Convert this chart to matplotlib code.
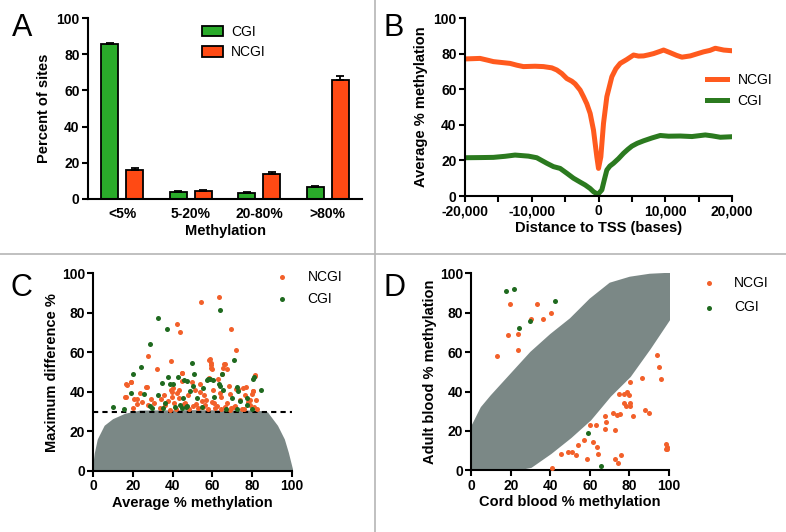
import numpy as np
import matplotlib
matplotlib.use('Agg')
import matplotlib.pyplot as plt
from matplotlib.lines import Line2D
from matplotlib.patches import Patch

plt.rcParams['font.family'] = ['Liberation Sans', 'DejaVu Sans']
plt.rcParams['font.weight'] = 'bold'

# ---- panel A: distribution of methylation levels
categories = ['<5%', '5-20%', '20-80%', '>80%']
cgi_pct = [85.8, 4.0, 3.3, 6.8]
cgi_err = [0.5, 0.3, 0.3, 0.5]
ncgi_pct = [16.0, 4.4, 14.0, 65.7]
ncgi_err = [1.3, 0.4, 0.9, 2.3]

# ---- panel B: average methylation around the TSS
ncgi_tss_x = [-20000, -18500, -17750, -16500, -15750, -14500, -13250, -12250, -11250, -9500,
              -8250, -7000, -6250, -5500, -4750, -4000, -3500, -2750, -2250, -1750,
              -1250, -750, -250, 0, 350, 750, 1250, 2000, 2600, 3250, 4200, 5250, 6000,
              6750, 7500, 8250, 9250, 9750, 10750, 11700, 12500, 13750, 14700, 15750,
              16700, 17500, 18750, 20000]
ncgi_tss_y = [77.0, 77.2, 77.3, 76.2, 75.5, 75.0, 74.5, 73.5, 72.7, 72.9,
              72.7, 72.0, 70.8, 68.8, 66.0, 64.5, 63.0, 59.5, 55.8, 51.8,
              46.4, 37.0, 22.0, 15.5, 22.0, 40.8, 55.8, 67.0, 71.5, 74.5, 76.6, 79.2, 78.6,
              78.7, 79.3, 80.0, 81.3, 82.0, 80.5, 79.0, 78.0, 78.7, 79.8, 81.0,
              81.8, 83.0, 82.0, 81.6]
cgi_tss_x = [-20000, -17500, -15750, -14000, -12500, -10500, -9250, -7750, -6750, -5750,
             -4750, -3750, -2750, -2000, -1250, -750, -100, 500, 900, 1250, 1700, 2250,
             3000, 3750, 4400, 5000, 5800, 6750, 8000, 9250, 10500, 12250, 14000, 16000,
             17000, 18250, 20000]
cgi_tss_y = [21.5, 21.6, 21.7, 22.3, 23.0, 22.4, 21.5, 18.4, 16.5, 15.5,
             12.8, 10.0, 7.8, 6.2, 4.2, 2.4, 0.9, 3.4, 9.5, 14.6, 16.8, 18.4,
             21.0, 24.0, 26.2, 28.0, 29.6, 31.0, 32.6, 34.0, 33.6, 33.7, 33.4, 34.3,
             33.8, 33.0, 33.3]

# ---- panel C: max difference vs average methylation
c_cloud_x = [0, 1, 2.5, 5.9, 10, 16, 23.5, 50, 82, 87.4, 90, 92.4, 95.8, 97.8, 100]
c_cloud_top = [1, 9, 16, 22.8, 26, 28.7, 30.3, 30.5, 30.3, 29.5, 26, 22.8, 16, 9.3, 0.5]

c_ncgi_x = [54.3, 63.5, 42.2, 43.7, 69.4, 72.1, 27.4, 39.2, 32.1, 81.7, 58.8, 59.2, 59.3,
            66.0, 67.2, 58.3, 64.7, 44.7, 16.5, 19.0, 16.1, 20.7, 21.8, 26.9, 39.5, 40.3,
            44.5, 53.8, 63.9, 68.9, 73.1, 77.0, 80.7, 79.9,
            16.3, 16.8, 18.8, 20.2, 21.9, 23.5, 24.7, 26.4, 27.7, 29.3, 30.8, 33.6, 35.6,
            37.7, 39.0, 39.5, 40.7, 42.0, 43.4, 44.5, 46.2, 47.9, 49.6, 51.3, 51.8, 53.8,
            55.1, 55.8, 58.5, 59.1, 59.6, 60.2, 61.3, 63.0, 64.6, 65.5, 66.3, 67.2, 68.6,
            70.9, 71.9, 73.9, 75.3, 76.4, 78.9, 80.3, 81.5, 81.8, 81.0,
            38.6, 54.6, 56.3, 58.0, 62.2, 68.9, 74.8, 41.5, 48.0, 53.0, 64.5, 69.5, 76.0,
            82.5, 36.0, 45.5, 50.5, 57.0, 61.0, 66.5, 71.5, 78.0, 34.0, 43.0, 60.0, 79.0]
c_ncgi_y = [85.5, 88.2, 74.2, 70.3, 72.0, 61.0, 58.2, 55.6, 51.4, 48.6, 56.5, 54.8, 52.3,
            54.0, 51.4, 47.2, 48.9, 49.7, 43.8, 45.0, 37.4, 36.2, 33.7, 42.5, 40.0, 41.8,
            45.5, 40.0, 39.6, 38.8, 41.7, 42.7, 40.5, 38.8,
            37.3, 43.4, 45.1, 32.0, 36.4, 39.3, 35.0, 42.3, 33.4, 36.4, 34.2, 31.7, 38.2,
            35.6, 40.9, 37.5, 34.2, 39.3, 40.9, 49.6, 34.5, 38.2, 45.1, 40.9, 33.9, 44.2,
            32.2, 38.2, 56.1, 53.7, 51.4, 40.9, 31.7, 46.7, 37.5, 52.0, 53.9, 34.2, 43.2,
            32.4, 41.6, 36.1, 42.1, 38.2, 36.1, 40.3, 47.8, 35.7, 32.4,
            31.1, 35.3, 33.2, 31.5, 32.7, 31.1, 31.6, 31.5, 31.2, 31.8, 31.4, 32.0, 31.3,
            31.6, 33.5, 34.0, 33.0, 36.0, 34.5, 32.5, 33.0, 34.8, 36.5, 37.0, 35.0, 33.5]
c_cgi_x = [63.9, 32.6, 37.0, 28.7, 71.1, 49.7, 23.9, 20.2, 81.0, 19.0, 9.7, 15.5, 25.4,
           34.5, 37.8, 38.7, 47.0, 48.7, 50.0, 55.5, 58.0, 60.5, 63.5, 65.0, 72.6, 77.6,
           73.9, 84.5, 28.6, 29.6, 32.8, 36.1, 40.3, 41.2, 42.9, 43.7, 45.0, 45.7, 46.7,
           50.8, 52.1, 57.1, 58.8, 60.8, 63.8, 65.5, 69.7, 73.1, 77.3, 80.6, 44.5, 47.0,
           72.3, 80.0, 35.0, 55.0, 67.0]
c_cgi_y = [81.3, 77.2, 72.0, 64.2, 56.3, 54.8, 52.6, 48.9, 47.4, 39.6, 32.4, 31.5, 38.8,
           44.7, 47.6, 43.8, 45.5, 40.5, 43.0, 41.8, 46.4, 45.9, 43.8, 49.2, 42.7, 37.1,
           35.4, 41.0, 32.9, 31.7, 38.2, 34.2, 44.0, 32.6, 47.6, 33.4, 36.7, 46.0, 32.6,
           49.2, 36.7, 46.0, 46.4, 37.5, 42.8, 40.9, 37.1, 40.3, 33.6, 46.6, 31.7, 32.9,
           31.6, 31.5, 31.8, 32.3, 31.4]

# ---- panel D: cord blood vs adult blood
d_cloud_x = [0, 5, 10, 20, 30, 40, 50, 60, 70, 80, 90, 100]
d_cloud_upper = [22, 32, 38, 49, 60, 69, 77, 87, 95, 98, 99.5, 100]
d_cloud_lower = [0, 0, 0, 0, 2, 9, 17, 26, 38, 48, 62, 77]

d_ncgi_x = [19.4, 33.2, 30.4, 36.3, 40.3, 18.5, 23.6, 23.8, 13.0, 94.1, 94.8, 96.1, 86.5,
            80.3, 74.5, 77.1, 78.9, 79.8, 77.4, 78.4, 80.1, 80.1, 71.7, 73.7, 75.4, 81.8,
            87.7, 89.9, 67.8, 68.3, 60.0, 63.2, 67.7, 72.7, 57.2, 61.5, 54.0, 63.7, 45.4,
            49.1, 50.7, 52.8, 64.1, 58.7, 72.5, 74.2, 75.9, 41.0, 98.7, 99.0, 99.2, 98.3]
d_ncgi_y = [84.6, 84.6, 76.6, 77.0, 79.9, 68.5, 69.2, 61.1, 58.0, 58.4, 52.5, 46.2, 46.7,
            44.8, 38.9, 38.6, 39.8, 38.1, 34.0, 32.7, 34.0, 32.7, 29.3, 28.1, 28.8, 27.4,
            30.6, 29.3, 27.6, 24.5, 23.2, 23.0, 21.2, 20.6, 15.2, 14.6, 12.7, 11.8, 8.1,
            9.3, 9.3, 7.6, 8.5, 5.6, 5.6, 3.9, 7.8, 1.4, 13.2, 11.8, 10.7, 11.0]
d_cgi_x = [17.7, 21.6, 42.2, 29.5, 24.1, 59.0, 65.8]
d_cgi_y = [91.0, 92.2, 85.8, 75.6, 72.4, 19.1, 2.2]

# colours
BAR_GREEN = '#2aab2a'
BAR_RED = '#ff4a14'
LINE_ORANGE = '#ff5a1e'
LINE_GREEN = '#2b7a1f'
DOT_ORANGE = '#f2602a'
DOT_GREEN = '#1f6a1f'
CLOUD = '#7b8886'

TICK_FS = 10
LABEL_FS = 10.5
LEG_FONT = {'size': 10, 'weight': 'normal'}


def style_axes(ax):
    for s in ['top', 'right']:
        ax.spines[s].set_visible(False)
    for s in ['left', 'bottom']:
        ax.spines[s].set_linewidth(1.5)
    ax.tick_params(direction='out', width=1.5, length=4, labelsize=TICK_FS, pad=2)


fig = plt.figure(figsize=(7.86, 5.32), dpi=100)
W, H = 786.0, 532.0


def add_axes_px(x0, y0, x1, y1):
    return fig.add_axes([x0 / W, 1 - y1 / H, (x1 - x0) / W, (y1 - y0) / H])


# ---------------- A
axA = add_axes_px(88, 18, 362, 199)
pos = np.arange(len(categories))
bw = 0.25
axA.bar(pos - 0.185, cgi_pct, bw, color=BAR_GREEN, edgecolor='black', linewidth=1.3, label='CGI')
axA.bar(pos + 0.185, ncgi_pct, bw, color=BAR_RED, edgecolor='black', linewidth=1.3, label='NCGI')
axA.errorbar(pos - 0.185, cgi_pct, yerr=[np.zeros(4), cgi_err], fmt='none', ecolor='black',
             elinewidth=1.3, capsize=3, capthick=1.3)
axA.errorbar(pos + 0.185, ncgi_pct, yerr=[np.zeros(4), ncgi_err], fmt='none', ecolor='black',
             elinewidth=1.3, capsize=3, capthick=1.3)
axA.set_xlim(-0.5, 3.5)
axA.set_ylim(0, 100)
axA.set_yticks([0, 20, 40, 60, 80, 100])
axA.set_xticks(pos, categories)
style_axes(axA)
axA.tick_params(axis='x', length=0, pad=6)
axA.set_xlabel('Methylation', fontsize=LABEL_FS, fontweight='bold', labelpad=2)
axA.set_ylabel('Percent of sites', fontsize=LABEL_FS, fontweight='bold', labelpad=4)
axA.legend(handles=[Patch(facecolor=BAR_GREEN, edgecolor='black', linewidth=1.3, label='CGI'),
                    Patch(facecolor=BAR_RED, edgecolor='black', linewidth=1.3, label='NCGI')],
           loc='upper left', bbox_to_anchor=(0.37, 1.03), frameon=False, prop=LEG_FONT,
           handlelength=1.5, handleheight=0.75, handletextpad=0.6, labelspacing=0.45)

# ---------------- B
axB = add_axes_px(465, 18, 732, 196)
axB.plot(ncgi_tss_x, ncgi_tss_y, color=LINE_ORANGE, lw=3.6, solid_joinstyle='round', label='NCGI')
axB.plot(cgi_tss_x, cgi_tss_y, color=LINE_GREEN, lw=3.6, solid_joinstyle='round', label='CGI')
axB.set_xlim(-20000, 20000)
axB.set_ylim(0, 100)
axB.set_yticks([0, 20, 40, 60, 80, 100])
xt = np.arange(-20000, 20001, 5000)
axB.set_xticks(xt, ['{:,}'.format(v) if v % 10000 == 0 else '' for v in xt])
style_axes(axB)
axB.set_xlabel('Distance to TSS (bases)', fontsize=LABEL_FS, fontweight='bold', labelpad=2)
axB.set_ylabel('Average % methylation', fontsize=LABEL_FS, fontweight='bold', labelpad=4)
axB.legend(loc='upper left', bbox_to_anchor=(0.86, 0.76), frameon=False, prop=LEG_FONT,
           handlelength=1.4, handletextpad=0.8, labelspacing=0.5)

# ---------------- C
axC = add_axes_px(93.3, 273.3, 291.7, 471)
axC.fill_between(c_cloud_x, 0, c_cloud_top, color=CLOUD, lw=1.5, edgecolor=CLOUD, zorder=1)
axC.axhline(30, color='black', lw=1.5, ls=(0, (2.5, 2)), zorder=2)
axC.scatter(c_ncgi_x, c_ncgi_y, s=13, color=DOT_ORANGE, lw=0, zorder=3, label='NCGI')
axC.scatter(c_cgi_x, c_cgi_y, s=13, color=DOT_GREEN, lw=0, zorder=4, label='CGI')
axC.set_xlim(0, 100)
axC.set_ylim(0, 100)
axC.set_xticks([0, 20, 40, 60, 80, 100])
axC.set_yticks([0, 20, 40, 60, 80, 100])
style_axes(axC)
axC.set_xlabel('Average % methylation', fontsize=LABEL_FS, fontweight='bold', labelpad=2)
axC.set_ylabel('Maximum difference %', fontsize=LABEL_FS, fontweight='bold', labelpad=2)
axC.legend(loc='upper left', bbox_to_anchor=(0.82, 1.08), frameon=False, prop=LEG_FONT,
           handletextpad=0.8, labelspacing=0.55)

# ---------------- D
axD = add_axes_px(471.3, 273.3, 669, 470.3)
axD.fill_between(d_cloud_x, d_cloud_lower, d_cloud_upper, color=CLOUD, lw=1.5, edgecolor=CLOUD, zorder=1)
axD.scatter(d_ncgi_x, d_ncgi_y, s=13, color=DOT_ORANGE, lw=0, zorder=3, label='NCGI')
axD.scatter(d_cgi_x, d_cgi_y, s=13, color=DOT_GREEN, lw=0, zorder=4, label='CGI')
axD.set_xlim(0, 100)
axD.set_ylim(0, 100)
axD.set_xticks([0, 20, 40, 60, 80, 100])
axD.set_yticks([0, 20, 40, 60, 80, 100])
style_axes(axD)
axD.set_xlabel('Cord blood % methylation', fontsize=LABEL_FS, fontweight='bold', labelpad=2)
axD.set_ylabel('Adult blood % methylation', fontsize=LABEL_FS, fontweight='bold', labelpad=2)
axD.legend(loc='upper left', bbox_to_anchor=(1.07, 1.05), frameon=False, prop=LEG_FONT,
           handletextpad=0.8, labelspacing=0.75)

# panel letters
for letter, (px, py) in zip('ABCD', [(12, 36), (384, 36), (10, 296), (384, 296)]):
    fig.text(px / W, 1 - py / H, letter, fontsize=22, fontweight='normal', ha='left', va='baseline')

# panel separators
sep = '#b5b5b5'
fig.add_artist(Line2D([375 / W, 375 / W], [0, 1], color=sep, lw=1.2))
fig.add_artist(Line2D([0, 1], [1 - 254 / H, 1 - 254 / H], color=sep, lw=1.2))

fig.savefig('out.png', dpi=100)
